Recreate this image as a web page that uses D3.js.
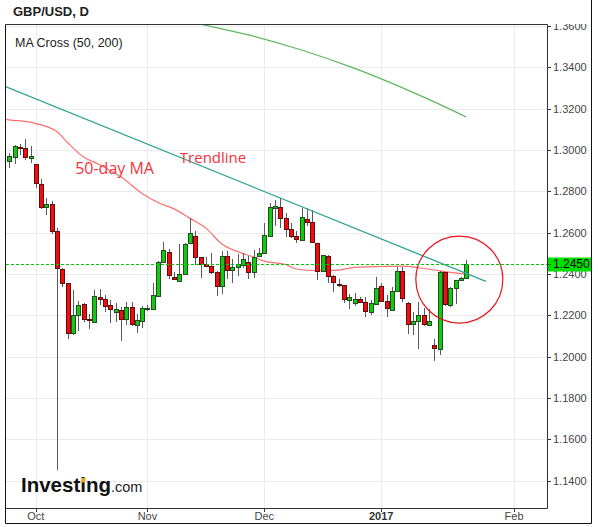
<!DOCTYPE html>
<html>
<head>
<meta charset="utf-8">
<script src="https://cdnjs.cloudflare.com/ajax/libs/d3/7.8.5/d3.min.js"></script>
<style>
body{margin:0;background:#fff;}
svg{display:block;font-family:"Liberation Sans",Arial,sans-serif;}
</style>
</head>
<body>
<svg id="chart"></svg>
<script>
//GBP/USD daily candles
var dates = [
"2016-09-26","2016-09-27","2016-09-28","2016-09-29","2016-09-30",
"2016-10-03","2016-10-04","2016-10-05","2016-10-06","2016-10-07",
"2016-10-10","2016-10-11","2016-10-12","2016-10-13","2016-10-14",
"2016-10-17","2016-10-18","2016-10-19","2016-10-20","2016-10-21",
"2016-10-24","2016-10-25","2016-10-26","2016-10-27","2016-10-28","2016-10-31",
"2016-11-01","2016-11-02","2016-11-03","2016-11-04",
"2016-11-07","2016-11-08","2016-11-09","2016-11-10","2016-11-11",
"2016-11-14","2016-11-15","2016-11-16","2016-11-17","2016-11-18",
"2016-11-21","2016-11-22","2016-11-23","2016-11-24","2016-11-25",
"2016-11-28","2016-11-29","2016-11-30",
"2016-12-01","2016-12-02",
"2016-12-05","2016-12-06","2016-12-07","2016-12-08","2016-12-09",
"2016-12-12","2016-12-13","2016-12-14","2016-12-15","2016-12-16",
"2016-12-19","2016-12-20","2016-12-21","2016-12-22","2016-12-23",
"2016-12-26","2016-12-27","2016-12-28","2016-12-29","2016-12-30",
"2017-01-02","2017-01-03","2017-01-04","2017-01-05","2017-01-06",
"2017-01-09","2017-01-10","2017-01-11","2017-01-12","2017-01-13",
"2017-01-16","2017-01-17","2017-01-18","2017-01-19","2017-01-20",
"2017-01-23","2017-01-24"
];
var open = [
1.2945,1.2965,1.3013,1.3008,1.2960,
1.2931,1.2834,1.2724,1.2737,1.2607,
1.2423,1.2355,1.2113,1.2200,1.2253,
1.2183,1.2169,1.2287,1.2277,1.2250,
1.2214,1.2227,1.2182,1.2241,1.2153,1.2172,
1.2229,1.2229,1.2292,1.2457,
1.2505,1.2385,1.2366,1.2399,1.2549,
1.2585,1.2482,1.2447,1.2437,1.2408,
1.2342,1.2489,1.2418,1.2432,1.2444,
1.2460,1.2408,1.2486,
1.2500,1.2584,
1.2718,1.2723,1.2670,1.2616,1.2582,
1.2563,1.2665,1.2650,1.2549,1.2415,
1.2487,1.2390,1.2353,1.2345,1.2273,
1.2258,1.2278,1.2264,1.2216,1.2255,
1.2340,1.2268,1.2224,1.2316,1.2413,
1.2260,1.2157,1.2171,1.2200,1.2152,
1.2055,1.2035,1.2408,1.2248,1.2334,
1.2370,1.2379
];
var high = [
1.2984,1.3024,1.3029,1.3053,1.3019,
1.2932,1.2860,1.2766,1.2755,1.2621,
1.2429,1.2356,1.2322,1.2269,1.2258,
1.2208,1.2322,1.2327,1.2298,1.2273,
1.2258,1.2239,1.2263,1.2263,1.2205,1.2245,
1.2250,1.2355,1.2461,1.2556,
1.2521,1.2410,1.2544,1.2550,1.2670,
1.2608,1.2484,1.2484,1.2500,1.2412,
1.2511,1.2511,1.2473,1.2495,1.2502,
1.2487,1.2516,1.2524,
1.2645,1.2742,
1.2758,1.2766,1.2694,1.2648,1.2610,
1.2718,1.2718,1.2710,1.2552,1.2492,
1.2490,1.2393,1.2376,1.2347,1.2305,
1.2309,1.2290,1.2287,1.2274,1.2387,
1.2355,1.2298,1.2339,1.2432,1.2432,
1.2262,1.2218,1.2264,1.2234,1.2229,
1.2087,1.2412,1.2411,1.2337,1.2371,
1.2385,1.2468
];
var low = [
1.2911,1.2931,1.2976,1.2952,1.2936,
1.2815,1.2714,1.2685,1.2594,1.1451,
1.2338,1.2084,1.2105,1.2125,1.2169,
1.2133,1.2164,1.2250,1.2217,1.2164,
1.2169,1.2077,1.2153,1.2148,1.2113,1.2140,
1.2221,1.2226,1.2289,1.2455,
1.2377,1.2371,1.2363,1.2395,1.2546,
1.2444,1.2379,1.2434,1.2401,1.2295,
1.2305,1.2376,1.2355,1.2392,1.2429,
1.2374,1.2382,1.2482,
1.2497,1.2581,
1.2632,1.2621,1.2578,1.2573,1.2549,
1.2560,1.2632,1.2549,1.2371,1.2410,
1.2355,1.2314,1.2337,1.2258,1.2229,
1.2245,1.2260,1.2193,1.2202,1.2250,
1.2264,1.2193,1.2221,1.2313,1.2263,
1.2110,1.2103,1.2036,1.2148,1.2148,
1.1979,1.2008,1.2245,1.2242,1.2255,
1.2366,1.2378
];
var close = [
1.2970,1.3018,1.3010,1.2965,1.2970,
1.2839,1.2724,1.2740,1.2609,1.2428,
1.2355,1.2116,1.2200,1.2248,1.2181,
1.2180,1.2292,1.2280,1.2247,1.2230,
1.2232,1.2181,1.2241,1.2157,1.2179,1.2236,
1.2237,1.2298,1.2457,1.2515,
1.2394,1.2376,1.2399,1.2547,1.2597,
1.2482,1.2450,1.2437,1.2408,1.2342,
1.2486,1.2418,1.2432,1.2447,1.2471,
1.2408,1.2484,1.2500,
1.2587,1.2723,
1.2729,1.2670,1.2618,1.2582,1.2568,
1.2674,1.2652,1.2556,1.2415,1.2491,
1.2390,1.2360,1.2348,1.2278,1.2287,
1.2281,1.2264,1.2221,1.2258,1.2331,
1.2268,1.2234,1.2316,1.2413,1.2282,
1.2157,1.2171,1.2203,1.2157,1.2173,
1.2041,1.2408,1.2253,1.2334,1.2370,
1.2379,1.2450
];

//moving averages: [candle index, value]
var ma50 = [
[-0.6,1.3148],[0,1.3146],[5,1.3128],[9,1.3088],[11,1.3035],[14,1.2966],[17,1.2929],
[21,1.2870],[25,1.2790],[28,1.2746],[31,1.2715],[34,1.2669],[37,1.2622],
[40,1.2545],[43,1.2508],[46,1.2482],[48,1.2462],[52,1.2446],[54,1.2424],
[58,1.2416],[62,1.2419],[65,1.2432],[70,1.2436],[74,1.2438],[77,1.2430],
[80,1.2419],[83,1.2408],[86,1.2399]
];
var ma200 = [
[34,1.3620],[36,1.3609],[45,1.3557],[55,1.3484],[65,1.3395],
[75,1.3290],[81,1.3221],[86,1.3160]
];
var trendline = [[-0.6,1.3306],[89.7,1.2364]];
var circleAt = [84.7,1.2373];
var lastPrice = 1.2450;

var yTicks = [1.14,1.16,1.18,1.20,1.22,1.24,1.26,1.28,1.30,1.32,1.34,1.36];
var xTickIdx = [5,26,48,70,95];
var xTickLabels = ["Oct","Nov","Dec","2017","Feb"];

var notes = [
{i:12.4, p:1.2884, text:"50-day MA", size:16},
{i:32.1, p:1.2935, text:"Trendline", size:15}
];

///some constants
var W = 598, H = 527;
var plot = {left:6, right:547, top:24, bottom:508};
var up_fill = "#14c814", up_stroke = "#1f4f1f";
var dn_fill = "#f20c0c", dn_stroke = "#5e0d0d";

var svg = d3.select("#chart").attr("width", W).attr("height", H);

var x = d3.scaleLinear().domain([-0.62, 101.2]).range([plot.left, plot.right]);
var y = d3.scaleLinear().domain([1.1267, 1.3610]).range([plot.bottom, plot.top]);

svg.append("clipPath").attr("id","plotclip").append("rect")
	.attr("x", plot.left).attr("y", plot.top)
	.attr("width", plot.right-plot.left).attr("height", plot.bottom-plot.top);
svg.append("clipPath").attr("id","axisclip").append("rect")
	.attr("x", plot.right).attr("y", plot.top)
	.attr("width", W-plot.right).attr("height", plot.bottom-plot.top);

var oPlot = svg.append("g").attr("clip-path","url(#plotclip)");

//grid
oPlot.selectAll("line.hgrid").data(yTicks).enter().append("line")
	.attr("class","hgrid")
	.attr("x1", plot.left).attr("x2", plot.right)
	.attr("y1", function(d){ return Math.round(y(d))+0.5; })
	.attr("y2", function(d){ return Math.round(y(d))+0.5; })
	.style("stroke","#ebebeb");
oPlot.selectAll("line.vgrid").data(xTickIdx).enter().append("line")
	.attr("class","vgrid")
	.attr("y1", plot.top).attr("y2", plot.bottom)
	.attr("x1", function(d){ return Math.round(x(d))+0.5; })
	.attr("x2", function(d){ return Math.round(x(d))+0.5; })
	.style("stroke","#ebebeb");

var line = d3.line()
	.x(function(d){ return x(d[0]); })
	.y(function(d){ return y(d[1]); })
	.curve(d3.curveMonotoneX);

oPlot.append("path").datum(ma200).attr("d", line)
	.style("fill","none").style("stroke","#5cb85c").style("stroke-width",1.2);
oPlot.append("path").datum(ma50).attr("d", line)
	.style("fill","none").style("stroke","#ff6f6f").style("stroke-width",1.2);

//candles
var candles = dates.map(function(d, i){
	return {date:d, i:i, o:open[i], h:high[i], l:low[i], c:close[i]};
});
var cg = oPlot.selectAll("g.candle").data(candles).enter().append("g").attr("class","candle");
cg.append("line")
	.attr("x1", function(d){ return Math.round(x(d.i))+0.5; })
	.attr("x2", function(d){ return Math.round(x(d.i))+0.5; })
	.attr("y1", function(d){ return Math.round(y(d.h)); })
	.attr("y2", function(d){ return Math.round(y(d.l)); })
	.style("stroke","#5a5a5a");
cg.append("rect")
	.attr("x", function(d){ return Math.round(x(d.i))-1.5; })
	.attr("width", 4)
	.attr("y", function(d){ return Math.round(y(Math.max(d.o,d.c)))+0.5; })
	.attr("height", function(d){
		var t = Math.round(y(Math.max(d.o,d.c))), b = Math.round(y(Math.min(d.o,d.c)));
		return Math.max(1, b-t);
	})
	.style("fill", function(d){ return d.c>=d.o ? up_fill : dn_fill; })
	.style("stroke", function(d){ return d.c>=d.o ? up_stroke : dn_stroke; })
	.style("stroke-width",1);

//trendline + circle
oPlot.append("path").datum(trendline).attr("d", d3.line().x(function(d){return x(d[0]);}).y(function(d){return y(d[1]);}))
	.style("fill","none").style("stroke","#2fa393").style("stroke-width",1.3);
oPlot.append("circle")
	.attr("cx", x(circleAt[0])).attr("cy", y(circleAt[1])).attr("r", 43.5)
	.style("fill","none").style("stroke","#e8141e").style("stroke-width",1.2);

//current price dashed line
oPlot.append("line")
	.attr("x1", plot.left).attr("x2", plot.right)
	.attr("y1", Math.round(y(lastPrice))+0.5).attr("y2", Math.round(y(lastPrice))+0.5)
	.style("stroke","#00c800").style("stroke-width",1.2).style("stroke-dasharray","3,2");

//notes
oPlot.selectAll("text.note").data(notes).enter().append("text")
	.attr("class","note")
	.attr("x", function(d){ return x(d.i); })
	.attr("y", function(d){ return y(d.p); })
	.style("font-family","'Open Sans','Noto Sans',sans-serif")
	.style("font-size", function(d){ return d.size+"px"; })
	.style("fill","#f0343c")
	.text(function(d){ return d.text; });

//logo
var logo = svg.append("text").attr("x",21).attr("y",492)
	.style("font-size","20.5px").style("font-weight","bold").style("fill","#111");
logo.append("tspan").text("Investing");
logo.append("tspan").style("font-weight","normal").style("font-size","14.5px").style("fill","#222").text(".com");
//orange dot on the second i
var iBox = logo.node().getExtentOfChar(6);
svg.append("rect")
	.attr("x", iBox.x+iBox.width/2-1.5).attr("y", iBox.y+iBox.height*0.22)
	.attr("width",4).attr("height",4.5)
	.attr("transform","skewX(-15)")
	.attr("transform-origin", (iBox.x+iBox.width/2)+" "+(iBox.y+iBox.height*0.25))
	.style("fill","#f7a21b");

//right axis
var yAxisG = svg.append("g").attr("clip-path","url(#axisclip)");
yAxisG.selectAll("line").data(yTicks).enter().append("line")
	.attr("x1", plot.right).attr("x2", plot.right+4)
	.attr("y1", function(d){ return Math.round(y(d))+0.5; })
	.attr("y2", function(d){ return Math.round(y(d))+0.5; })
	.style("stroke","#333");
yAxisG.selectAll("text").data(yTicks).enter().append("text")
	.attr("x", plot.right+6)
	.attr("y", function(d){ return y(d)+4; })
	.style("font-size","11px").style("fill","#444")
	.text(function(d){ return d3.format(".4f")(d); });

//price tag
yAxisG.append("rect")
	.attr("x", plot.right+0.5).attr("y", Math.round(y(lastPrice))-6.5)
	.attr("width", 44).attr("height", 14)
	.style("fill","#00e000");
yAxisG.append("line")
	.attr("x1", plot.right).attr("x2", plot.right+4)
	.attr("y1", Math.round(y(lastPrice))+0.5).attr("y2", Math.round(y(lastPrice))+0.5)
	.style("stroke","#008800");
yAxisG.append("text")
	.attr("x", plot.right+6).attr("y", y(lastPrice)+4.5)
	.style("font-size","12px").style("fill","#000")
	.text(d3.format(".4f")(lastPrice));

//bottom axis
svg.selectAll("line.xtick").data(xTickIdx).enter().append("line")
	.attr("class","xtick")
	.attr("x1", function(d){ return Math.round(x(d))+0.5; })
	.attr("x2", function(d){ return Math.round(x(d))+0.5; })
	.attr("y1", plot.bottom).attr("y2", plot.bottom+4)
	.style("stroke","#333");
svg.selectAll("text.xlab").data(xTickIdx).enter().append("text")
	.attr("class","xlab")
	.attr("x", function(d){ return x(d); })
	.attr("y", 520)
	.attr("text-anchor","middle")
	.style("font-size","11px")
	.style("font-weight", function(d,i){ return xTickLabels[i]=="2017" ? "bold" : "normal"; })
	.style("fill", function(d,i){ return xTickLabels[i]=="2017" ? "#333" : "#444"; })
	.text(function(d,i){ return xTickLabels[i]; });

//frames
var frame = [
[plot.left-0.5, plot.top+0.5, plot.right+0.5, plot.top+0.5, "#333"],
[plot.left-0.5, plot.bottom+0.5, plot.right+0.5, plot.bottom+0.5, "#333"],
[plot.right+0.5, plot.top+0.5, plot.right+0.5, plot.bottom+0.5, "#333"],
[plot.left-0.5, plot.top+0.5, plot.left-0.5, 523.5, "#111"],
[plot.left-0.5, 523.5, 591.5, 523.5, "#111"],
[591.5, 0, 591.5, 523.5, "#111"]
];
svg.selectAll("line.frame").data(frame).enter().append("line")
	.attr("x1", function(d){return d[0];}).attr("y1", function(d){return d[1];})
	.attr("x2", function(d){return d[2];}).attr("y2", function(d){return d[3];})
	.style("stroke", function(d){return d[4];});

//titles
svg.append("text").attr("x",13).attr("y",16)
	.style("font-size","13px").style("font-weight","bold").style("fill","#222")
	.text("GBP/USD, D");
svg.append("text").attr("x",15).attr("y",47)
	.style("font-size","12.5px").style("fill","#222")
	.text("MA Cross (50, 200)");
</script>
</body>
</html>
